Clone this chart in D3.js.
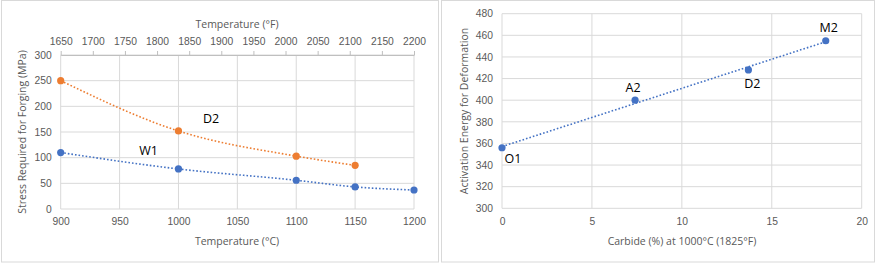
<!DOCTYPE html>
<html>
<head>
<meta charset="utf-8">
<script src="https://cdn.jsdelivr.net/npm/d3@7"></script>
<style>
  body { margin: 0; background: #fff; }
  svg { display: block; font-family: "Open Sans", sans-serif; }
</style>
</head>
<body>
<div id="chart"></div>
<script>
// Left chart: forging stress vs temperature
const tempC = [900, 1000, 1100, 1150, 1200];
const d2Stress = [250, 152, 103, 85];        // D2 measured at first four temps
const w1Stress = [110, 78, 56, 43, 37];      // W1
const tempCTicks = [900, 950, 1000, 1050, 1100, 1150, 1200];
const tempFTicks = [1650, 1700, 1750, 1800, 1850, 1900, 1950, 2000, 2050, 2100, 2150, 2200];
const stressTicks = [0, 50, 100, 150, 200, 250, 300];

// Right chart: activation energy vs carbide
const steels = ["O1", "A2", "D2", "M2"];
const carbide = [0, 7.4, 13.7, 18];
const activation = [356, 400, 428, 455];
const carbideTicks = [0, 5, 10, 15, 20];
const energyTicks = [300, 320, 340, 360, 380, 400, 420, 440, 460, 480];

const blue = "#4472c4", orange = "#ed7d31";
const grid = "#d9d9d9", tickColor = "#595959";
const fmt = d3.format("d");

const svg = d3.select("#chart").append("svg")
    .attr("width", 880)
    .attr("height", 264);

// panel frames
svg.append("rect").attr("x", 1.5).attr("y", 0.5).attr("width", 437).attr("height", 261.5)
    .attr("fill", "#fff").attr("stroke", "#d9d9d9");
svg.append("rect").attr("x", 441.5).attr("y", 0.5).attr("width", 433).attr("height", 261.5)
    .attr("fill", "#fff").attr("stroke", "#d9d9d9");

function dottedLine(g, pts, x, y, color, curve) {
  g.append("path")
      .datum(pts)
      .attr("fill", "none")
      .attr("stroke", color)
      .attr("stroke-width", 1.6)
      .attr("stroke-dasharray", "1.6 2")
      .attr("d", d3.line().x(d => x(d[0])).y(d => y(d[1])).curve(curve));
}

function styleTicks(sel) {
  sel.selectAll("text")
      .attr("fill", tickColor)
      .style("font-size", "10.3px");
}

// ---------- left chart ----------
{
  const x = d3.scaleLinear().domain([900, 1200]).range([60.7, 414]);
  const xF = d3.scaleLinear().domain([1650, 2200]).range([60.7, 414]);
  const y = d3.scaleLinear().domain([0, 300]).range([209, 55]);
  const g = svg.append("g");

  // gridlines
  g.selectAll(".hg").data(stressTicks).enter().append("line")
      .attr("x1", x(900)).attr("x2", x(1200))
      .attr("y1", d => y(d)).attr("y2", d => y(d))
      .attr("stroke", grid);
  g.selectAll(".vg").data(tempCTicks).enter().append("line")
      .attr("x1", d => x(d)).attr("x2", d => x(d))
      .attr("y1", y(0)).attr("y2", y(300))
      .attr("stroke", grid);

  // top axis (°F)
  const top = g.append("g")
      .attr("transform", `translate(0,${y(300)})`)
      .call(d3.axisTop(xF).tickValues(tempFTicks).tickFormat(fmt).tickSize(4).tickSizeOuter(0).tickPadding(6));
  top.select(".domain").attr("stroke", "#bfbfbf");
  top.selectAll(".tick line").attr("stroke", "#bfbfbf");
  styleTicks(top);

  // bottom axis (°C)
  const bottom = g.append("g")
      .attr("transform", `translate(0,${y(0)})`)
      .call(d3.axisBottom(x).tickValues(tempCTicks).tickFormat(fmt).tickSize(0).tickPadding(9));
  bottom.select(".domain").remove();
  styleTicks(bottom);

  // left axis
  const left = g.append("g")
      .attr("transform", `translate(${x(900)},0)`)
      .call(d3.axisLeft(y).tickValues(stressTicks).tickFormat(fmt).tickSize(0).tickPadding(9));
  left.select(".domain").remove();
  styleTicks(left);

  // trendlines
  const d2Pts = d2Stress.map((v, i) => [tempC[i], v]);
  const w1Pts = w1Stress.map((v, i) => [tempC[i], v]);
  dottedLine(g, d2Pts, x, y, orange, d3.curveMonotoneX);
  dottedLine(g, w1Pts, x, y, blue, d3.curveMonotoneX);

  g.selectAll(".d2").data(d2Pts).enter().append("circle")
      .attr("cx", d => x(d[0])).attr("cy", d => y(d[1])).attr("r", 3.6).attr("fill", orange);
  g.selectAll(".w1").data(w1Pts).enter().append("circle")
      .attr("cx", d => x(d[0])).attr("cy", d => y(d[1])).attr("r", 3.6).attr("fill", blue);

  g.append("text").attr("x", 211).attr("y", 123).attr("text-anchor", "middle")
      .style("font-size", "12.5px").attr("fill", "#000").text("D2");
  g.append("text").attr("x", 148.5).attr("y", 155).attr("text-anchor", "middle")
      .style("font-size", "12.5px").attr("fill", "#000").text("W1");

  g.append("text").attr("x", 237).attr("y", 27.5).attr("text-anchor", "middle")
      .style("font-size", "10.5px").attr("fill", tickColor).text("Temperature (°F)");
  g.append("text").attr("x", 237).attr("y", 245).attr("text-anchor", "middle")
      .style("font-size", "10.5px").attr("fill", tickColor).text("Temperature (°C)");
  g.append("text").attr("transform", "translate(26,132) rotate(-90)").attr("text-anchor", "middle")
      .style("font-size", "10.5px").attr("fill", tickColor).text("Stress Required for Forging (MPa)");
}

// ---------- right chart ----------
{
  const x = d3.scaleLinear().domain([0, 20]).range([502, 861.7]);
  const y = d3.scaleLinear().domain([300, 480]).range([208.3, 13.7]);
  const g = svg.append("g");

  g.selectAll(".hg").data(energyTicks).enter().append("line")
      .attr("x1", x(0)).attr("x2", x(20))
      .attr("y1", d => y(d)).attr("y2", d => y(d))
      .attr("stroke", grid);
  g.selectAll(".vg").data(carbideTicks).enter().append("line")
      .attr("x1", d => x(d)).attr("x2", d => x(d))
      .attr("y1", y(300)).attr("y2", y(480))
      .attr("stroke", grid);

  const bottom = g.append("g")
      .attr("transform", `translate(0,${y(300)})`)
      .call(d3.axisBottom(x).tickValues(carbideTicks).tickFormat(fmt).tickSize(0).tickPadding(9));
  bottom.select(".domain").remove();
  styleTicks(bottom);

  const left = g.append("g")
      .attr("transform", `translate(${x(0)},0)`)
      .call(d3.axisLeft(y).tickValues(energyTicks).tickFormat(fmt).tickSize(0).tickPadding(9));
  left.select(".domain").remove();
  styleTicks(left);

  // linear trendline (least squares over the points)
  const mx = d3.mean(carbide), my = d3.mean(activation);
  const slope = d3.sum(carbide, (c, i) => (c - mx) * (activation[i] - my)) /
                d3.sum(carbide, c => (c - mx) * (c - mx));
  const icpt = my - slope * mx;
  const xr = d3.extent(carbide);
  dottedLine(g, xr.map(c => [c, icpt + slope * c]), x, y, blue, d3.curveLinear);

  const pts = carbide.map((c, i) => ({ name: steels[i], c, e: activation[i] }));
  g.selectAll(".pt").data(pts).enter().append("circle")
      .attr("cx", d => x(d.c)).attr("cy", d => y(d.e)).attr("r", 3.6).attr("fill", blue);

  // label offsets relative to each point
  const labelOff = { O1: [11, 15], A2: [-2, -8], D2: [4, 18], M2: [3, -9] };
  g.selectAll(".lbl").data(pts).enter().append("text")
      .attr("x", d => x(d.c) + labelOff[d.name][0])
      .attr("y", d => y(d.e) + labelOff[d.name][1])
      .attr("text-anchor", "middle")
      .style("font-size", "12.5px").attr("fill", "#000")
      .text(d => d.name);

  g.append("text").attr("x", 682).attr("y", 245).attr("text-anchor", "middle")
      .style("font-size", "10.5px").attr("fill", tickColor).text("Carbide (%) at 1000°C (1825°F)");
  g.append("text").attr("transform", "translate(468,111) rotate(-90)").attr("text-anchor", "middle")
      .style("font-size", "10.5px").attr("fill", tickColor).text("Activation Energy for Deformation");
}
</script>
</body>
</html>
